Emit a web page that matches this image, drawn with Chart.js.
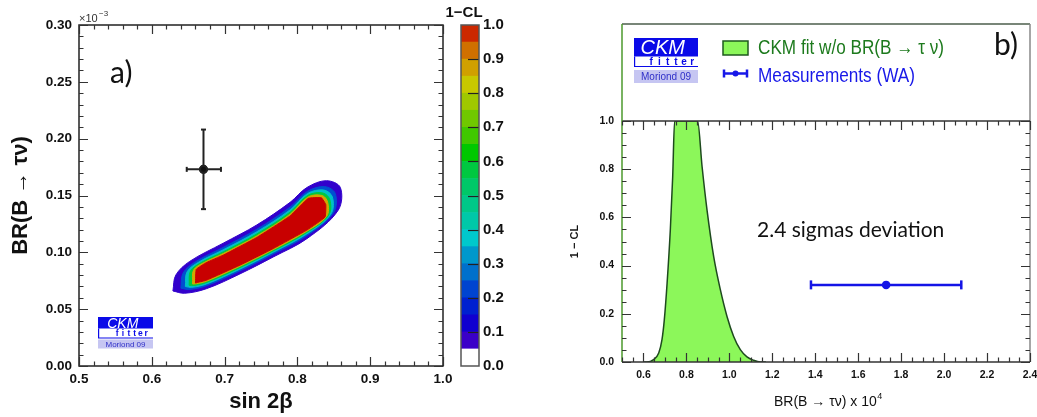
<!DOCTYPE html>
<html>
<head>
<meta charset="utf-8">
<script src="https://cdn.jsdelivr.net/npm/chart.js@4.4.1/dist/chart.umd.min.js"></script>
<style>
  body { margin: 0; background: #fff; }
  #wrap { position: relative; width: 1037px; height: 417px; overflow: hidden; }
  canvas { position: absolute; top: 0; }
</style>
</head>
<body>
<div id="wrap">
  <canvas id="chartA" width="455" height="417" style="left:0"></canvas>
  <canvas id="chartBar" width="80" height="417" style="left:440px"></canvas>
  <canvas id="chartB" width="517" height="417" style="left:520px"></canvas>
</div>
<script>
// ---- panel a: 1-CL contours, (sin 2beta, BR x 1e-3), outermost first
const contourColors = ['#3200cc', '#0050d0', '#00c0c8', '#00c840', '#d0a800', '#c80000'];
const contourOuter = [[0.629,0.066],[0.633,0.080],[0.652,0.092],[0.698,0.108],[0.744,0.124],[0.790,0.144],[0.813,0.157],[0.840,0.163],[0.859,0.157],[0.856,0.137],[0.813,0.112],[0.767,0.096],[0.721,0.081],[0.675,0.068],[0.645,0.064]];
const contour2 = [[0.640,0.0685],[0.643,0.0818],[0.660,0.0917],[0.698,0.1043],[0.744,0.1202],[0.790,0.1398],[0.814,0.1537],[0.8376,0.1578],[0.852,0.1518],[0.8497,0.1349],[0.813,0.1147],[0.767,0.0986],[0.721,0.0837],[0.675,0.0706],[0.6513,0.0673]];
const contour3 = [[0.6461,0.0699],[0.6484,0.0828],[0.6647,0.0915],[0.698,0.1022],[0.744,0.1180],[0.790,0.1374],[0.8141,0.1518],[0.8362,0.1548],[0.848,0.1488],[0.8461,0.1337],[0.813,0.1162],[0.767,0.1001],[0.721,0.0852],[0.675,0.0721],[0.6549,0.0692]];
const contour4 = [[0.6513,0.0710],[0.6532,0.0836],[0.6686,0.0913],[0.698,0.1004],[0.744,0.1161],[0.790,0.1354],[0.8144,0.1502],[0.8350,0.1522],[0.8446,0.1462],[0.8430,0.1327],[0.813,0.1175],[0.767,0.1013],[0.721,0.0865],[0.675,0.0734],[0.6580,0.0708]];
const contour5 = [[0.656,0.0721],[0.6574,0.0844],[0.672,0.0911],[0.698,0.0989],[0.744,0.1144],[0.790,0.1336],[0.8147,0.1487],[0.8339,0.1500],[0.8416,0.1440],[0.8403,0.1318],[0.813,0.1186],[0.767,0.1024],[0.721,0.0877],[0.675,0.0745],[0.6607,0.0723]];
const contourCore = [[0.660,0.073],[0.661,0.085],[0.675,0.091],[0.698,0.0975],[0.744,0.113],[0.790,0.132],[0.815,0.1475],[0.833,0.148],[0.839,0.142],[0.838,0.131],[0.813,0.1196],[0.767,0.1034],[0.721,0.0887],[0.675,0.0755],[0.663,0.0735]];

// measurement cross in panel a (low, central, high)
const measSin2b = [0.648, 0.671, 0.695];
const measBRa = [0.138, 0.173, 0.208];

// colour scale, bottom (0.0) to top (1.0), bands of 0.05
const colorbarColors = ['#ffffff','#3a00c8','#1000d0','#0020d0','#0044d0','#0070cc','#0098cc','#00c8cc','#00c8a8','#00c888',
                        '#00c868','#00c840','#00c800','#40c800','#70c800','#a0c800','#c8c800','#d0a000','#d07000','#cc2800'];
const colorbarBand = 0.05;

// ---- panel b: 1-CL profile of the CKM fit vs BR(B -> tau nu) x 1e4
const fitBR = [0.600, 0.616, 0.647, 0.671, 0.686, 0.697, 0.710, 0.725, 0.736, 0.745, 0.800, 0.852, 0.873, 0.896, 0.927, 0.958, 0.989, 1.020, 1.051, 1.082, 1.113, 1.144, 1.170];
const fitCL = [0, 0, 0.010, 0.037, 0.092, 0.175, 0.327, 0.548, 0.768, 1.0, 1.0, 1.0, 0.81, 0.63, 0.437, 0.30, 0.189, 0.106, 0.051, 0.021, 0.007, 0, 0];
const measBRb = [1.38, 1.73, 2.08];
const measCLb = 0.32;

const FONT = '"Liberation Sans", Arial, sans-serif';

function rootTicks(cfg) {
  return {
    id: 'rootTicks',
    afterDatasetsDraw(chart) {
      const {ctx, chartArea: a, scales} = chart;
      ctx.save();
      ctx.lineWidth = 1.2;
      ctx.strokeStyle = cfg.color;
      const run = (scale, minor, major, horiz) => {
        const n = Math.round((scale.max - scale.min) / minor);
        for (let k = 0; k <= n; k++) {
          const v = scale.min + k * minor;
          const r = v / major;
          const len = Math.abs(r - Math.round(r)) < 1e-6 ? cfg.major : cfg.minor;
          const p = Math.round(scale.getPixelForValue(v)) + 0.5;
          ctx.beginPath();
          if (horiz) {
            ctx.moveTo(p, a.bottom); ctx.lineTo(p, a.bottom - len);
            ctx.moveTo(p, a.top); ctx.lineTo(p, a.top + len);
          } else {
            ctx.moveTo(a.left, p); ctx.lineTo(a.left + len, p);
            ctx.moveTo(a.right, p); ctx.lineTo(a.right - len, p);
          }
          ctx.stroke();
        }
      };
      run(scales.x, cfg.xMinor, cfg.xMajor, true);
      run(scales.y, cfg.yMinor, cfg.yMajor, false);
      ctx.restore();
    }
  };
}

// CKMfitter logo: blue band, "fitter" row, lavender "Moriond 09" row
function drawLogo(ctx, x, y, w, L) {
  ctx.save();
  ctx.fillStyle = '#0a0ae8';
  ctx.fillRect(x, y, w, L.hTop);
  ctx.fillStyle = '#fff';
  ctx.font = `italic ${L.fsTop}px ${FONT}`;
  ctx.textAlign = 'center';
  ctx.textBaseline = 'middle';
  ctx.fillText('CKM', x + w * 0.45, y + L.hTop / 2 + 1);
  ctx.strokeStyle = '#0a0ae8';
  ctx.lineWidth = 1.2;
  ctx.beginPath();
  ctx.moveTo(x + 0.6, y + L.hTop); ctx.lineTo(x + 0.6, y + L.hTop + L.hMid);
  ctx.lineTo(x + w, y + L.hTop + L.hMid);
  ctx.stroke();
  ctx.fillStyle = '#0a0ae8';
  ctx.font = `bold ${L.fsMid}px ${FONT}`;
  const letters = 'fitter';
  for (let i = 0; i < letters.length; i++) {
    ctx.fillText(letters[i], x + w * L.start + i * w * L.step, y + L.hTop + L.hMid / 2 + 0.5);
  }
  ctx.fillStyle = '#c6c6f2';
  ctx.fillRect(x, y + L.hTop + L.hMid + L.gap, w, L.hBot);
  ctx.fillStyle = '#3030c8';
  ctx.font = `${L.fsBot}px ${FONT}`;
  ctx.fillText('Moriond 09', x + w / 2, y + L.hTop + L.hMid + L.gap + L.hBot / 2 + 0.5, w - 8);
  ctx.restore();
}

const closed = pts => pts.concat([pts[0]]).map(([x, y]) => ({x, y}));
const contours = [contourOuter, contour2, contour3, contour4, contour5, contourCore];

const contourSets = contours.map((pts, i) => ({
  data: closed(pts),
  borderColor: contourColors[i],
  backgroundColor: contourColors[i],
  borderWidth: 1,
  fill: 'shape',
  pointRadius: 0,
  tension: i === contours.length - 1 ? 0.1 : 0.35,
  order: 10 - i
}));

const crossStyle = {
  borderColor: '#222', borderWidth: 2, fill: false,
  pointStyle: ['line', 'circle', 'line'],
  pointRadius: [2.5, 3.5, 2.5],
  pointBorderWidth: 2,
  pointBorderColor: '#222', pointBackgroundColor: '#111',
  order: 0
};

const panelA = {
  id: 'panelA',
  afterDatasetsDraw(chart) {
    const {ctx, chartArea: a} = chart;
    ctx.save();
    ctx.strokeStyle = '#222';
    ctx.lineWidth = 1.5;
    ctx.strokeRect(a.left, a.top, a.right - a.left, a.bottom - a.top);
    ctx.fillStyle = '#333';
    ctx.font = `11px ${FONT}`;
    ctx.textBaseline = 'alphabetic';
    ctx.fillText('×10', a.left, 22);
    ctx.font = `8px ${FONT}`;
    ctx.fillText('−3', a.left + 20, 16);
    ctx.fillStyle = '#111';
    ctx.font = '30px Lato, "Open Sans", sans-serif';
    ctx.fillText('a)', 110, 83);
    drawLogo(ctx, 98, 317, 55, { hTop: 11.5, hMid: 9.5, gap: 1.5, hBot: 9, fsTop: 14, fsMid: 8.5, fsBot: 8, start: 0.35, step: 0.105 });
    ctx.restore();
  }
};

new Chart(document.getElementById('chartA'), {
  type: 'line',
  data: {
    datasets: [
      Object.assign({ data: measBRa.map(y => ({x: measSin2b[1], y})) }, crossStyle),
      Object.assign({ data: measSin2b.map(x => ({x, y: measBRa[1]})), pointRotation: [90, 0, 90] }, crossStyle),
      ...contourSets
    ]
  },
  options: {
    responsive: false,
    animation: false,
    layout: { padding: { top: 25, right: 12, left: 0, bottom: 0 } },
    plugins: { legend: { display: false }, tooltip: { enabled: false } },
    scales: {
      x: {
        type: 'linear', min: 0.5, max: 1.0,
        afterFit: s => { s.height = 51; s.paddingLeft = 0; s.paddingRight = 0; },
        grid: { display: false, drawTicks: false },
        border: { display: false },
        ticks: { stepSize: 0.1, autoSkip: false, maxRotation: 0, padding: 5, color: '#111',
                 font: { family: FONT, size: 13.5, weight: 'bold' }, callback: v => v.toFixed(1) },
        title: { display: true, text: 'sin 2β', color: '#111', padding: { top: 0, bottom: 2 },
                 font: { family: FONT, size: 22, weight: 'bold' } }
      },
      y: {
        min: 0, max: 0.30,
        afterFit: s => { s.width = 79; s.paddingTop = 0; s.paddingBottom = 0; },
        grid: { display: false, drawTicks: false },
        border: { display: false },
        ticks: { stepSize: 0.05, autoSkip: false, padding: 7, color: '#111',
                 font: { family: FONT, size: 13.5, weight: 'bold' }, callback: v => v.toFixed(2) },
        title: { display: true, text: 'BR(B → τν)', color: '#111', padding: { top: 8, bottom: 0 },
                 font: { family: FONT, size: 22, weight: 'bold' } }
      }
    }
  },
  plugins: [panelA, rootTicks({ color: '#333', major: 9, minor: 4.5, xMinor: 0.02, xMajor: 0.1, yMinor: 0.01, yMajor: 0.05 })]
});

// ---- colour bar
const barDeco = {
  id: 'barDeco',
  afterDatasetsDraw(chart) {
    const {ctx, chartArea: a, scales: {y}} = chart;
    ctx.save();
    ctx.strokeStyle = '#222';
    ctx.lineWidth = 1.2;
    for (let k = 1; k <= 9; k++) {
      const p = Math.round(y.getPixelForValue(k / 10)) + 0.5;
      ctx.beginPath(); ctx.moveTo(a.right, p); ctx.lineTo(a.right - 11, p); ctx.stroke();
    }
    ctx.strokeStyle = '#555';
    ctx.lineWidth = 1.5;
    ctx.strokeRect(a.left, a.top, a.right - a.left, a.bottom - a.top);
    ctx.fillStyle = '#111';
    ctx.font = `bold 15px ${FONT}`;
    ctx.textAlign = 'center';
    ctx.textBaseline = 'middle';
    ctx.fillText('1−CL', 24, 13);
    ctx.restore();
  }
};

new Chart(document.getElementById('chartBar'), {
  type: 'bar',
  data: {
    labels: ['1-CL'],
    datasets: colorbarColors.map(c => ({
      data: [colorbarBand], backgroundColor: c, borderWidth: 0,
      barPercentage: 1, categoryPercentage: 1
    }))
  },
  options: {
    responsive: false,
    animation: false,
    layout: { padding: { top: 25, right: 0, left: 21, bottom: 51 } },
    plugins: { legend: { display: false }, tooltip: { enabled: false } },
    scales: {
      x: { stacked: true, display: false },
      y: {
        stacked: true, position: 'right', min: 0, max: 1,
        afterFit: s => { s.width = 41; s.paddingTop = 0; s.paddingBottom = 0; },
        grid: { display: false, drawTicks: false },
        border: { display: false },
        ticks: { stepSize: 0.1, autoSkip: false, padding: 4, color: '#111',
                 font: { family: FONT, size: 15, weight: 'bold' }, callback: v => v.toFixed(1) }
      }
    }
  },
  plugins: [barDeco]
});

// ---- panel b
const panelB = {
  id: 'panelB',
  afterDatasetsDraw(chart) {
    const {ctx, chartArea: a} = chart;
    const top = 24;
    ctx.save();
    ctx.lineWidth = 1.5;
    ctx.strokeStyle = '#4b5e4b';
    ctx.beginPath(); ctx.moveTo(a.left, top); ctx.lineTo(a.right, top); ctx.stroke();
    ctx.strokeStyle = '#888';
    ctx.beginPath(); ctx.moveTo(a.right, top); ctx.lineTo(a.right, a.bottom); ctx.stroke();
    ctx.strokeStyle = '#333';
    ctx.beginPath(); ctx.moveTo(a.left, a.top); ctx.lineTo(a.right, a.top); ctx.stroke();
    ctx.beginPath(); ctx.moveTo(a.left, a.bottom); ctx.lineTo(a.right, a.bottom); ctx.stroke();
    ctx.strokeStyle = '#4c9a2c';
    ctx.beginPath(); ctx.moveTo(a.left, top); ctx.lineTo(a.left, a.bottom); ctx.stroke();

    // legend
    ctx.fillStyle = '#8cf75a';
    ctx.fillRect(203, 41, 25, 14);
    ctx.strokeStyle = '#1e5a1e';
    ctx.strokeRect(203, 41, 25, 14);
    ctx.textBaseline = 'middle';
    ctx.font = `20px ${FONT}`;
    ctx.fillStyle = '#1d7a1d';
    ctx.fillText('CKM fit w/o BR(B → τ ν)', 238, 48.5, 186);
    ctx.fillStyle = '#1818e8';
    ctx.fillText('Measurements (WA)', 238, 76, 157);
    ctx.strokeStyle = '#1818e8';
    ctx.lineWidth = 2.5;
    ctx.beginPath();
    ctx.moveTo(204, 73.5); ctx.lineTo(227, 73.5);
    ctx.moveTo(204, 69.5); ctx.lineTo(204, 77.5);
    ctx.moveTo(227, 69.5); ctx.lineTo(227, 77.5);
    ctx.stroke();
    ctx.beginPath(); ctx.arc(215.5, 73.5, 3, 0, 2 * Math.PI); ctx.fill();

    drawLogo(ctx, 114, 38, 64, { hTop: 18.5, hMid: 10, gap: 3.5, hBot: 13, fsTop: 20, fsMid: 10, fsBot: 10, start: 0.27, step: 0.128 });

    ctx.fillStyle = '#111';
    ctx.textBaseline = 'alphabetic';
    ctx.font = '30px Lato, "Open Sans", sans-serif';
    ctx.fillText('b)', 474, 55);
    ctx.font = '21px Lato, "Open Sans", sans-serif';
    ctx.fillText('2.4 sigmas deviation', 237, 236.5, 209);

    // x axis title with superscript
    ctx.font = `14px ${FONT}`;
    const main = 'BR(B → τν) x 10';
    const w = ctx.measureText(main).width;
    ctx.fillText(main, 254, 406);
    ctx.font = `9px ${FONT}`;
    ctx.fillText('4', 254 + w + 0.5, 399);
    ctx.restore();
  }
};

new Chart(document.getElementById('chartB'), {
  type: 'line',
  data: {
    datasets: [
      {
        data: measBRb.map(x => ({x, y: measCLb})),
        borderColor: '#1414e6', borderWidth: 2.5, fill: false,
        pointStyle: ['line', 'circle', 'line'], pointRotation: [90, 0, 90],
        pointRadius: [4.5, 3, 4.5], pointBorderWidth: 2.5,
        pointBorderColor: '#1414e6', pointBackgroundColor: '#1414e6'
      },
      {
        data: fitBR.map((x, i) => ({x, y: fitCL[i]})),
        borderColor: '#1e4a1e', borderWidth: 1.5,
        backgroundColor: '#8cf75a', fill: 'origin',
        pointRadius: 0, cubicInterpolationMode: 'monotone'
      }
    ]
  },
  options: {
    responsive: false,
    animation: false,
    layout: { padding: { top: 121, right: 7, left: 0, bottom: 0 } },
    plugins: { legend: { display: false }, tooltip: { enabled: false } },
    scales: {
      x: {
        type: 'linear', min: 0.5, max: 2.4,
        afterFit: s => { s.height = 55; s.paddingLeft = 0; s.paddingRight = 0; },
        grid: { display: false, drawTicks: false },
        border: { display: false },
        ticks: { stepSize: 0.2, includeBounds: false, autoSkip: false, maxRotation: 0, padding: 7, color: '#111',
                 font: { family: FONT, size: 10.5, weight: 'bold' }, callback: v => v.toFixed(1) }
      },
      y: {
        min: 0, max: 1,
        afterFit: s => { s.width = 102; s.paddingTop = 0; s.paddingBottom = 0; },
        grid: { display: false, drawTicks: false },
        border: { display: false },
        ticks: { stepSize: 0.2, autoSkip: false, padding: 8, color: '#111',
                 font: { family: FONT, size: 10.5, weight: 'bold' }, callback: v => v.toFixed(1) },
        title: { display: true, text: '1 − CL', color: '#111', padding: { top: 48, bottom: 0 },
                 font: { family: FONT, size: 11, weight: 'bold' } }
      }
    }
  },
  plugins: [panelB, rootTicks({ color: '#333', major: 9, minor: 4.5, xMinor: 0.05, xMajor: 0.2, yMinor: 0.05, yMajor: 0.2 })]
});
</script>
</body>
</html>
